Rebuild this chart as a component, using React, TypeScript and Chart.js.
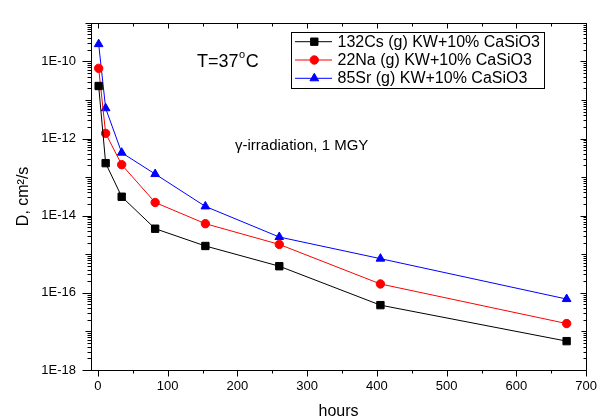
import React, { useEffect, useRef } from 'react';
import { Chart, registerables } from 'chart.js';
import { drawPoint } from 'chart.js/helpers';

Chart.register(...registerables);

const hours = [1, 11, 34, 82, 154, 260, 405, 672];
const cs132 = [2.3e-11, 2.3e-13, 3.1e-14, 4.6e-15, 1.64e-15, 4.9e-16, 4.8e-17, 5.6e-18];
const na22 = [6.6e-11, 1.36e-12, 2.1e-13, 2.2e-14, 6.2e-15, 1.8e-15, 1.7e-16, 1.6e-17];
const sr85 = [2.8e-10, 6.1e-12, 4.3e-13, 1.2e-13, 1.74e-14, 2.8e-15, 7.7e-16, 6.9e-17];

const seriesLabels = ['132Cs (g) KW+10% CaSiO3', '22Na (g) KW+10% CaSiO3', '85Sr (g) KW+10% CaSiO3'];
const xMajorTicks = [0, 100, 200, 300, 400, 500, 600, 700];
const xMinorTicks = [50, 150, 250, 350, 450, 550, 650];
const yLabelDecades = [-18, -16, -14, -12, -10];
const yDecades = [-18, -17, -16, -15, -14, -13, -12, -11, -10, -9];

const FONT = '"Liberation Sans", Arial, sans-serif';

const decorPlugin = {
  id: 'decor',
  afterDraw(chart: any) {
    const ctx = chart.ctx;
    const { left, right, top, bottom } = chart.chartArea;
    const xs = chart.scales.x;
    const ys = chart.scales.y;
    ctx.save();
    ctx.strokeStyle = '#000';
    ctx.lineWidth = 1;
    ctx.strokeRect(Math.round(left) + 0.5, Math.round(top) + 0.5, Math.round(right - left), Math.round(bottom - top));
    const line = (x1: number, y1: number, x2: number, y2: number) => {
      ctx.beginPath();
      ctx.moveTo(x1, y1);
      ctx.lineTo(x2, y2);
      ctx.stroke();
    };
    const b = Math.round(bottom) + 0.5;
    const t = Math.round(top) + 0.5;
    xMajorTicks.forEach((v) => {
      const px = Math.round(xs.getPixelForValue(v)) + 0.5;
      line(px, b, px, b + 6);
      line(px, t, px, t + 5);
    });
    xMinorTicks.forEach((v) => {
      const px = Math.round(xs.getPixelForValue(v)) + 0.5;
      line(px, b, px, b + 3);
      line(px, t, px, t + 3);
    });
    const l = Math.round(left) + 0.5;
    const r = Math.round(right) + 0.5;
    yDecades.forEach((n) => {
      const py = Math.round(ys.getPixelForValue(Math.pow(10, n))) + 0.5;
      const len = n % 2 === 0 ? 9 : 6;
      line(l - len, py, l, py);
      line(r - (n % 2 === 0 ? 6 : 5), py, r, py);
      if (n < -9) {
        for (let k = 2; k <= 9; k++) {
          const pm = Math.round(ys.getPixelForValue(k * Math.pow(10, n))) + 0.5;
          line(l - 4, pm, l, pm);
          line(r - 3, pm, r, pm);
        }
      }
    });

    // annotations
    ctx.fillStyle = '#000';
    ctx.textBaseline = 'middle';
    ctx.textAlign = 'left';
    ctx.font = `18px ${FONT}`;
    ctx.fillText('T=37', 197, 62);
    const w1 = ctx.measureText('T=37').width;
    ctx.font = `11px ${FONT}`;
    ctx.fillText('o', 197 + w1 + 0.5, 55);
    const w2 = ctx.measureText('o').width;
    ctx.font = `18px ${FONT}`;
    ctx.fillText('C', 197 + w1 + w2 + 1, 62);
    ctx.font = `15px ${FONT}`;
    ctx.fillText('γ-irradiation, 1 MGY', 235, 146);

    // legend
    const bx = 291.5, by = 32.5, bw = 253, bh = 56;
    ctx.fillStyle = '#fff';
    ctx.fillRect(bx, by, bw, bh);
    ctx.strokeStyle = '#000';
    ctx.strokeRect(bx, by, bw, bh);
    chart.data.datasets.forEach((ds: any, i: number) => {
      const cy = 41.7 + i * 18.3;
      ctx.strokeStyle = ds.borderColor;
      ctx.lineWidth = 1;
      line(295, cy, 332, cy);
      ctx.fillStyle = ds.backgroundColor;
      ctx.strokeStyle = ds.borderColor;
      drawPoint(ctx, { pointStyle: ds.pointStyle, radius: ds.pointRadius, borderWidth: 1, rotation: 0 }, 314.3, cy);
      ctx.fillStyle = '#000';
      ctx.font = `16px ${FONT}`;
      ctx.textBaseline = 'middle';
      ctx.fillText(ds.label, 337.5, cy + 0.5);
    });
    ctx.restore();
  },
};

export default function App() {
  const ref = useRef<HTMLCanvasElement>(null);
  useEffect(() => {
    if (!ref.current) return;
    const mk = (label: string, data: number[], color: string, style: string, radius: number) => ({
      label,
      data: hours.map((h, i) => ({ x: h, y: data[i] })),
      borderColor: color,
      backgroundColor: color,
      borderWidth: 1,
      pointStyle: style,
      pointRadius: radius,
      pointBorderWidth: 1,
      pointHoverRadius: radius,
      tension: 0,
    });
    const chart = new Chart(ref.current, {
      type: 'line',
      data: {
        datasets: [
          mk(seriesLabels[0], cs132, '#000000', 'rect', 5.2),
          mk(seriesLabels[1], na22, '#ff0000', 'circle', 4.2),
          mk(seriesLabels[2], sr85, '#0000ff', 'triangle', 5),
        ],
      },
      options: {
        responsive: false,
        animation: false,
        layout: { padding: { left: 0, top: 13, right: 13, bottom: 0 } },
        plugins: { legend: { display: false }, tooltip: { enabled: false } },
        scales: {
          x: {
            type: 'linear',
            min: -10,
            max: 700,
            grid: { display: false, drawTicks: false },
            border: { display: false },
            afterBuildTicks: (s: any) => {
              s.ticks = xMajorTicks.map((v) => ({ value: v }));
            },
            afterFit: (s: any) => {
              s.height = 49;
            },
            ticks: {
              autoSkip: false,
              maxRotation: 0,
              padding: 9,
              color: '#000',
              font: { family: FONT, size: 13 },
            },
            title: {
              display: true,
              text: 'hours',
              color: '#000',
              font: { family: FONT, size: 16 },
              padding: { top: 0, bottom: -2 },
            },
          },
          y: {
            type: 'logarithmic',
            min: 1e-18,
            max: 1e-9,
            grid: { display: false, drawTicks: false },
            border: { display: false },
            afterBuildTicks: (s: any) => {
              s.ticks = yLabelDecades.map((n) => ({ value: Math.pow(10, n), major: true }));
            },
            afterFit: (s: any) => {
              s.width = 91;
            },
            ticks: {
              autoSkip: false,
              padding: 15,
              color: '#000',
              font: { family: FONT, size: 13 },
              callback: (v: any) => `1E${Math.round(Math.log10(Number(v)))}`,
            },
            title: {
              display: true,
              text: 'D, cm²/s',
              color: '#000',
              font: { family: FONT, size: 16 },
              padding: { top: 14, bottom: 0 },
            },
          },
        },
      },
      plugins: [decorPlugin],
    } as any);
    return () => chart.destroy();
  }, []);
  return (
    <div style={{ position: 'absolute', left: 0, top: 0, width: 606, height: 419, background: '#fff' }}>
      <canvas ref={ref} width={606} height={419} />
    </div>
  );
}
